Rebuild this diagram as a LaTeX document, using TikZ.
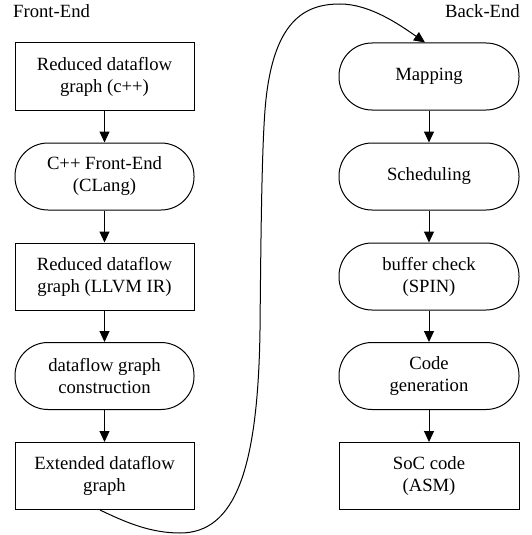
\documentclass[tikz,border=0pt]{standalone}
\usepackage{fontspec}
\setmainfont{Liberation Serif}
\usetikzlibrary{arrows.meta}
\begin{document}
\begin{tikzpicture}[x=1pt,y=-1pt,
  every node/.style={font=\fontsize{18.67}{22}\selectfont},
  sqbox/.style={draw,line width=1pt,rectangle,minimum width=179pt,minimum height=67pt,align=center,inner sep=0pt},
  rdbox/.style={sqbox,rounded corners=33pt},
  arr/.style={line width=1pt,-{Triangle[length=11pt,width=10pt]}},
  lbl/.style={inner sep=0pt}]
\useasboundingbox (0,0) rectangle (532,535);
\node[lbl,anchor=base west] (fe) at (13,18) {Front-End};
\node[lbl,anchor=base east] (be) at (520,18) {Back-End};
\node[sqbox] (a1) at (104.5,76.5) {Reduced dataflow\\graph (c++)};
\node[rdbox] (a2) at (104.5,176.5) {C++ Front-End\\(CLang)};
\node[sqbox] (a3) at (104.5,276.5) {Reduced dataflow\\graph (LLVM IR)};
\node[rdbox] (a4) at (104.5,376) {dataflow graph\\construction};
\node[sqbox] (a5) at (104.5,476) {Extended dataflow\\graph};
\node[rdbox,minimum width=180pt] (b1) at (429,76.5) {Mapping};
\node[rdbox,minimum width=180pt] (b2) at (429,176.5) {Scheduling};
\node[rdbox,minimum width=180pt] (b3) at (429,276.5) {buffer check\\(SPIN)};
\node[rdbox,minimum width=180pt] (b4) at (429,376) {Code\\generation};
\node[sqbox,minimum width=180pt] (b5) at (429,476) {SoC code\\(ASM)};
\draw[arr] (a1) -- (a2);
\draw[arr] (a2) -- (a3);
\draw[arr] (a3) -- (a4);
\draw[arr] (a4) -- (a5);
\draw[arr] (b1) -- (b2);
\draw[arr] (b2) -- (b3);
\draw[arr] (b3) -- (b4);
\draw[arr] (b4) -- (b5);
\draw[arr] ([xshift=-4.5pt]a5.south) .. controls (125,522) and (150,533) .. (180,533)
  .. controls (235,533) and (258,470) .. (260,330)
  .. controls (261,220) and (262,150) .. (265,110)
  .. controls (272,20) and (305,4) .. (340,4)
  .. controls (370,4) and (400,25) .. ([xshift=-4pt]b1.north);
\end{tikzpicture}
\end{document}
